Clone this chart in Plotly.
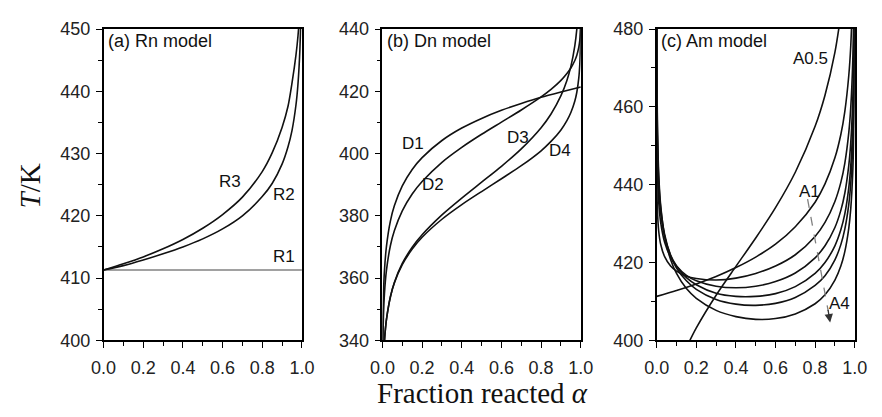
import plotly.graph_objects as go

# ---------------- (a) Rn model ----------------
alpha_r1 = [0.0, 1.0]
temp_r1 = [411.3, 411.3]

alpha_r2 = [0.0, 0.1, 0.2, 0.3, 0.4, 0.5, 0.6, 0.7, 0.8, 0.85, 0.9, 0.93, 0.95,
            0.97, 0.98, 0.99, 0.995]
temp_r2 = [411.3, 412.0, 412.9, 413.9, 415.0, 416.3, 417.9, 420.0, 423.1, 425.2,
           428.3, 431.1, 433.7, 437.8, 441.1, 446.8, 452.7]

alpha_r3 = [0.0, 0.1, 0.2, 0.3, 0.4, 0.5, 0.6, 0.7, 0.8, 0.85, 0.9, 0.93, 0.95,
            0.97, 0.98, 0.99]
temp_r3 = [411.3, 412.3, 413.4, 414.7, 416.2, 418.0, 420.2, 423.0, 427.1, 430.1,
           434.2, 437.6, 441.3, 445.8, 448.8, 453.0]

# ---------------- (b) Dn model ----------------
alpha_d1 = [0.001, 0.002, 0.005, 0.01, 0.02, 0.04, 0.06, 0.1, 0.15, 0.2, 0.3,
            0.4, 0.5, 0.6, 0.7, 0.8, 0.9, 1.0]
temp_d1 = [338.6, 345.4, 354.8, 362.3, 370.1, 378.3, 383.2, 389.6, 394.9, 398.7,
           404.2, 408.2, 411.3, 413.9, 416.1, 418.1, 419.8, 421.4]

alpha_d2 = [0.002, 0.003, 0.005, 0.01, 0.02, 0.04, 0.06, 0.1, 0.15, 0.2, 0.3,
            0.4, 0.5, 0.6, 0.7, 0.8, 0.85, 0.9, 0.93, 0.95, 0.97, 0.98, 0.99,
            0.995, 0.998, 0.999]
temp_d2 = [338.6, 342.6, 347.7, 354.9, 362.4, 370.4, 375.2, 381.6, 387.0, 391.0,
           397.2, 402.0, 406.2, 410.1, 414.0, 418.2, 420.6, 423.5, 425.7, 427.5,
           429.9, 431.6, 434.2, 436.4, 439.0, 440.7]

alpha_d3 = [0.01, 0.012, 0.015, 0.02, 0.04, 0.06, 0.1, 0.15, 0.2, 0.3, 0.4, 0.5,
            0.6, 0.7, 0.8, 0.85, 0.9, 0.93, 0.95, 0.97, 0.98, 0.99]
temp_d3 = [339.7, 341.5, 343.7, 346.7, 354.0, 358.6, 364.7, 369.9, 373.9, 380.3,
           385.7, 390.8, 395.9, 401.5, 408.3, 412.7, 418.6, 423.5, 428.0, 434.7,
           440.0, 448.9]

alpha_d4 = [0.01, 0.012, 0.015, 0.02, 0.04, 0.06, 0.1, 0.15, 0.2, 0.3, 0.4, 0.5,
            0.6, 0.7, 0.8, 0.85, 0.9, 0.93, 0.95, 0.97, 0.98, 0.99, 0.995, 0.998,
            0.999, 0.9995]
temp_d4 = [339.7, 341.5, 343.7, 346.6, 353.9, 358.4, 364.3, 369.3, 373.1, 378.9,
           383.6, 387.8, 391.9, 396.1, 400.9, 403.9, 407.6, 410.6, 413.2, 416.9,
           419.7, 424.3, 428.7, 434.3, 438.4, 442.6]

# ---------------- (c) Am model ----------------
alpha_a05 = [0.16, 0.2, 0.3, 0.4, 0.5, 0.6, 0.7, 0.8, 0.85, 0.9, 0.93]
temp_a05 = [399.2, 403.2, 411.6, 419.0, 426.3, 434.1, 443.2, 455.0, 463.0, 474.0,
            483.7]

alpha_a1 = [0.0, 0.1, 0.2, 0.3, 0.4, 0.5, 0.6, 0.7, 0.8, 0.85, 0.9, 0.93, 0.95,
            0.97, 0.98, 0.99]
temp_a1 = [411.3, 412.8, 414.5, 416.4, 418.7, 421.4, 424.7, 429.2, 435.5, 440.2,
           446.9, 452.9, 458.8, 468.0, 475.6, 489.1]

alpha_am = [0.00001, 0.0001, 0.001, 0.003, 0.01, 0.02, 0.04, 0.07, 0.1, 0.15,
            0.2, 0.3, 0.4, 0.5, 0.6, 0.7, 0.8, 0.85, 0.9, 0.93, 0.95, 0.97, 0.98,
            0.99, 0.995, 0.998, 0.999]
temp_a15 = [466.6, 453.0, 440.2, 434.3, 428.1, 424.7, 421.5, 419.1, 417.8, 416.5,
            415.9, 415.5, 416.0, 417.2, 419.1, 422.0, 426.7, 430.3, 435.7, 440.6,
            445.5, 453.3, 459.8, 471.4, 483.8, 497.0, 505.0]
temp_a2 = [498.5, 475.6, 454.7, 445.4, 435.6, 430.3, 425.2, 421.4, 419.1, 416.7,
           415.3, 413.9, 413.5, 413.9, 415.1, 417.3, 421.2, 424.3, 429.0, 433.4,
           437.8, 444.9, 450.8, 461.5, 472.9, 489.2, 500.0]
temp_a25 = [518.7, 489.2, 462.9, 451.4, 439.4, 432.9, 426.7, 421.9, 419.1, 416.1,
            414.3, 412.1, 411.3, 411.3, 412.0, 413.8, 417.2, 420.0, 424.3, 428.4,
            432.5, 439.2, 444.8, 454.9, 465.7, 481.2, 492.0]
temp_a3 = [532.0, 498.1, 468.0, 454.9, 441.5, 434.1, 427.2, 421.8, 418.6, 415.3,
           413.1, 410.5, 409.3, 409.0, 409.5, 411.0, 414.1, 416.6, 420.7, 424.6,
           428.6, 434.9, 440.3, 450.0, 460.4, 475.3, 487.4]
temp_a4 = [548.7, 508.3, 473.4, 458.4, 443.0, 434.7, 426.8, 420.8, 417.2, 413.3,
           410.8, 407.7, 406.1, 405.4, 405.6, 406.8, 409.4, 411.7, 415.5, 419.1,
           422.8, 428.8, 433.8, 443.0, 452.9, 467.1, 478.6]

# x and y extents of the three panels
X_RANGE = [0, 1]
Y_RANGES = [[400, 450], [340, 440], [400, 480]]
Y_DTICK = [10, 20, 20]
X_DOMAINS = [[0.1058, 0.3375], [0.4316, 0.6633], [0.7520, 0.9833]]
Y_DOMAIN = [0.1679, 0.9520]

LINE = dict(color="#111111", width=1.6)
SANS = "Liberation Sans, Arial, sans-serif"
SERIF = "Liberation Serif, Times New Roman, serif"

fig = go.Figure()


def add_curve(x, y, panel, line=LINE):
    suffix = "" if panel == 1 else str(panel)
    fig.add_trace(go.Scatter(x=x, y=y, mode="lines", line=dict(shape="spline", smoothing=0.8, **line),
                             xaxis="x" + suffix, yaxis="y" + suffix,
                             hoverinfo="skip", showlegend=False))


add_curve(alpha_r1, temp_r1, 1, dict(color="#444444", width=1.1))
add_curve(alpha_r2, temp_r2, 1)
add_curve(alpha_r3, temp_r3, 1)

add_curve(alpha_d1, temp_d1, 2)
add_curve(alpha_d2, temp_d2, 2)
add_curve(alpha_d3, temp_d3, 2)
add_curve(alpha_d4, temp_d4, 2)

add_curve(alpha_a05, temp_a05, 3)
add_curve(alpha_a1, temp_a1, 3)
for temps in (temp_a15, temp_a2, temp_a25, temp_a3, temp_a4):
    add_curve(alpha_am, temps, 3)

# dashed trend arrow from A1 towards A4
fig.add_trace(go.Scatter(x=[0.762, 0.866], y=[436.3, 407.6], mode="lines",
                         line=dict(color="#808080", width=1.3, dash="dash"),
                         xaxis="x3", yaxis="y3", hoverinfo="skip", showlegend=False))

axis_common = dict(
    showline=True, linecolor="black", linewidth=1.5, mirror=True,
    ticks="outside", ticklen=6, tickwidth=1.4, tickcolor="black",
    showgrid=False, zeroline=False,
    tickfont=dict(family=SANS, size=18, color="#222222"),
)

layout = dict(
    width=882, height=417,
    margin=dict(l=0, r=0, t=0, b=0),
    paper_bgcolor="white", plot_bgcolor="white",
    showlegend=False,
)
for i in range(3):
    suffix = "" if i == 0 else str(i + 1)
    layout["xaxis" + suffix] = dict(
        axis_common, domain=X_DOMAINS[i], range=X_RANGE, anchor="y" + suffix,
        tick0=0, dtick=0.2, tickformat=".1f", ticklabelstandoff=4,
        minor=dict(ticks="outside", ticklen=3.5, tickwidth=1.2, tickcolor="black", dtick=0.1),
    )
    layout["yaxis" + suffix] = dict(
        axis_common, domain=Y_DOMAIN, range=Y_RANGES[i], anchor="x" + suffix,
        tick0=0, dtick=Y_DTICK[i], ticklabelstandoff=2,
        minor=dict(ticks="outside", ticklen=3.5, tickwidth=1.2, tickcolor="black",
                   dtick=Y_DTICK[i] / 2),
    )
fig.update_layout(**layout)

label_font = dict(family=SANS, size=17, color="#111111")
title_font = dict(family=SANS, size=18, color="#111111")

annotations = []
# panel titles
for i, txt in enumerate(["(a) Rn model", "(b) Dn model", "(c) Am model"]):
    suffix = "" if i == 0 else str(i + 1)
    annotations.append(dict(text=txt, xref="x" + suffix + " domain", yref="y" + suffix + " domain",
                            x=0.012, y=0.963, xanchor="left", yanchor="middle",
                            showarrow=False, font=title_font))

# curve labels (alpha, T)
curve_labels = [
    ("R3", 0.637, 425.5, ""), ("R2", 0.91, 423.4, ""), ("R1", 0.91, 413.5, ""),
    ("D1", 0.152, 403.3, "2"), ("D2", 0.257, 390.2, "2"),
    ("D3", 0.682, 405.3, "2"), ("D4", 0.897, 400.9, "2"),
    ("A0.5", 0.776, 472.4, "3"), ("A1", 0.772, 438.3, "3"), ("A4", 0.923, 409.5, "3"),
]
for txt, xa, ya, suffix in curve_labels:
    annotations.append(dict(text=txt, x=xa, y=ya, xref="x" + suffix, yref="y" + suffix,
                            showarrow=False, font=label_font))

# arrow head for the dashed trend line
annotations.append(dict(text="", x=0.876, y=404.6, ax=0.864, ay=408.2,
                        xref="x3", yref="y3", axref="x3", ayref="y3",
                        showarrow=True, arrowhead=2, arrowsize=1.3, arrowwidth=1.3,
                        arrowcolor="#333333"))

# shared axis titles
annotations.append(dict(text="<i>T</i>/K", xref="paper", yref="paper",
                        x=0.02, y=0.556, textangle=-90, showarrow=False,
                        xanchor="center", yanchor="middle",
                        font=dict(family=SERIF, size=29, color="#111111")))
annotations.append(dict(text="Fraction reacted <i>α</i>", xref="paper", yref="paper",
                        x=0.549, y=0.036, showarrow=False,
                        xanchor="center", yanchor="middle",
                        font=dict(family=SERIF, size=29, color="#111111")))

fig.update_layout(annotations=annotations)
fig.write_html("out.html")
